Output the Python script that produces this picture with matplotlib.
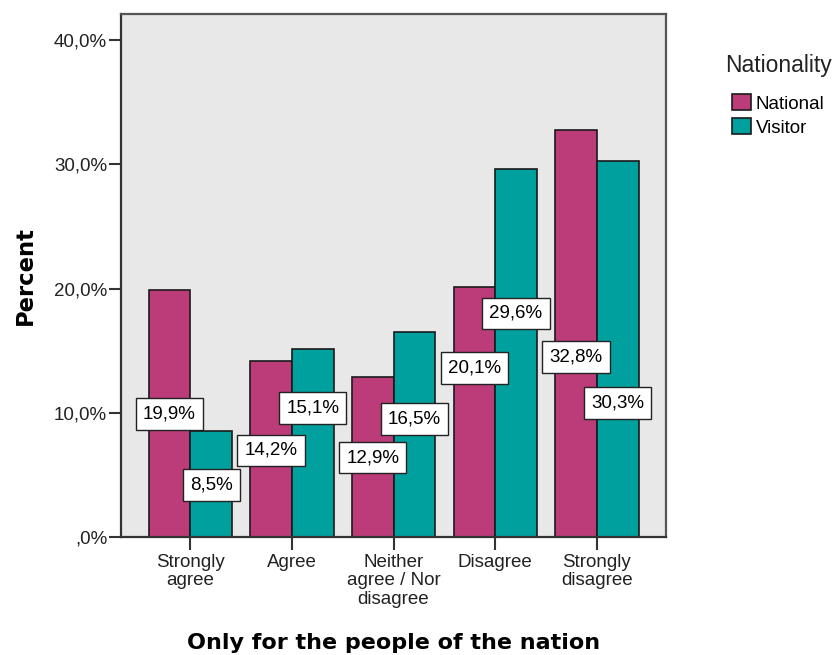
import matplotlib
matplotlib.use("Agg")
import matplotlib.pyplot as plt
import numpy as np

# 응답 범주와 국적별 비율 (%)
categories = ["Strongly\nagree", "Agree", "Neither\nagree / Nor\ndisagree",
              "Disagree", "Strongly\ndisagree"]
national = [19.9, 14.2, 12.9, 20.1, 32.8]
visitor = [8.5, 15.1, 16.5, 29.6, 30.3]
series_names = ["National", "Visitor"]
yticks = [0, 10, 20, 30, 40]
ytick_labels = [",0%", "10,0%", "20,0%", "30,0%", "40,0%"]

# 라벨 상자 높이 (SPSS가 겹치지 않게 옮긴 위치)
national_label_y = [9.9, 7.0, 6.4, 13.6, 14.5]
visitor_label_y = [4.2, 10.4, 9.5, 18.0, 10.8]

plt.rcParams['font.family'] = ['Liberation Sans', 'DejaVu Sans']

fig = plt.figure(figsize=(8.35, 6.55), dpi=100)
ax = fig.add_axes([0.145, 0.180, 0.6526, 0.7986])
ax.set_facecolor("#E8E8E8")

x = np.arange(len(categories))
w = 0.41
colors = ["#BC3C7A", "#00A09E"]

bars_n = ax.bar(x - w / 2, national, w, color=colors[0], edgecolor="#1a1a1a",
                linewidth=1.2, label=series_names[0], zorder=2)
bars_v = ax.bar(x + w / 2, visitor, w, color=colors[1], edgecolor="#1a1a1a",
                linewidth=1.2, label=series_names[1], zorder=2)

box = dict(boxstyle="square,pad=0.38", facecolor="white", edgecolor="#222222", linewidth=1.0)
for i in range(len(categories)):
    ax.text(x[i] - w / 2, national_label_y[i], f"{national[i]:.1f}%".replace(".", ","),
            ha="center", va="center", fontsize=13.5, bbox=box, zorder=4)
    ax.text(x[i] + w / 2, visitor_label_y[i], f"{visitor[i]:.1f}%".replace(".", ","),
            ha="center", va="center", fontsize=13.5, bbox=box, zorder=4)

ax.set_xlim(-0.68, len(categories) - 1 + 0.68)
ax.set_ylim(0, 42.1)
ax.set_yticks(yticks)
ax.set_yticklabels(ytick_labels, fontsize=13.5, color="#222222")
ax.set_xticks(x)
ax.set_xticklabels(categories, fontsize=13.5, color="#222222", linespacing=1.12)
ax.tick_params(axis="both", direction="out", length=9, width=1.5, color="#333333")
ax.tick_params(axis="x", pad=3)
ax.tick_params(axis="y", pad=1)

for s in ax.spines.values():
    s.set_color("#555555")
    s.set_linewidth(1.6)
ax.spines["left"].set_color("#333333")
ax.spines["bottom"].set_color("#333333")

ax.set_ylabel("Percent", fontsize=16.3, fontweight="bold", family="DejaVu Sans", labelpad=12)
ax.set_xlabel("Only for the people of the nation", fontsize=16, fontweight="bold",
              family="DejaVu Sans", labelpad=18)

# 범례: 제목은 따로 그려 간격을 맞춘다
fig.text(0.868, 0.890, "Nationality", fontsize=16.5, ha="left", va="baseline", color="#222222")
leg = ax.legend(handles=[bars_n, bars_v], loc="upper left",
                bbox_to_anchor=(0.877, 0.856), bbox_transform=fig.transFigure,
                frameon=False, fontsize=13.5,
                handlelength=1.0, handleheight=0.95, handletextpad=0.25,
                labelspacing=0.28, borderpad=0, borderaxespad=0)
for p in leg.get_patches():
    p.set_edgecolor("#1a1a1a")

fig.savefig("out.png", dpi=100)
